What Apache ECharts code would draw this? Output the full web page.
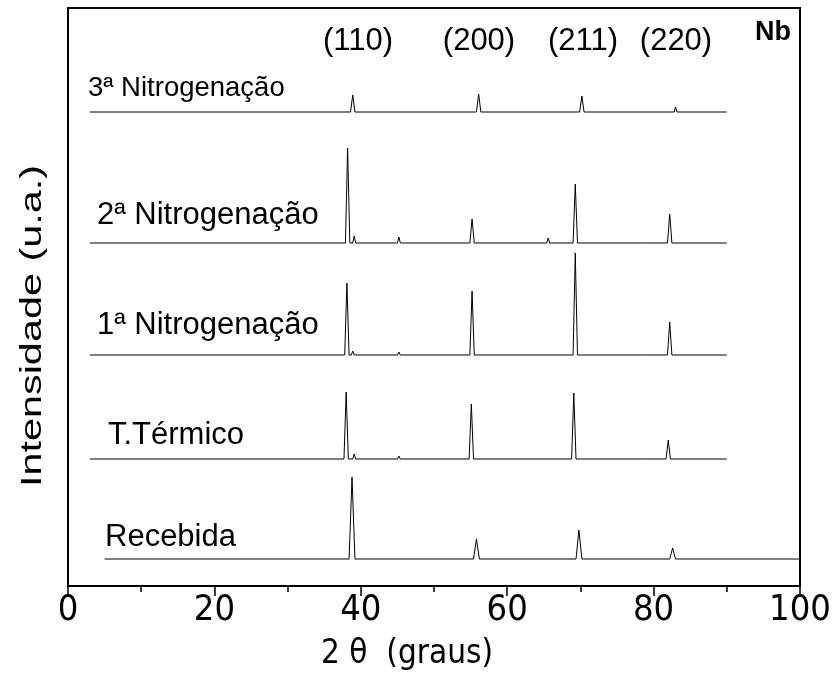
<!DOCTYPE html>
<html>
<head>
<meta charset="utf-8">
<script src="https://cdn.jsdelivr.net/npm/echarts@6/dist/echarts.min.js"></script>
<style>html,body{margin:0;padding:0;background:#fff}#c{width:835px;height:682px}</style>
</head>
<body>
<div id="c"></div>
<script>
// Trace names (bottom to top) and vertical offsets (arbitrary units)
const traceNames = ['Recebida', 'T.Térmico', '1ª Nitrogenação', '2ª Nitrogenação', '3ª Nitrogenação'];
const traceOffsets = [27, 127, 231, 343, 474];

// [2θ, intensity]
const recebida = [[5,0],[38.4,0],[38.8,82],[39.2,0],[55.4,0],[55.8,20],[56.2,0],[69.4,0],[69.8,29],[70.2,0],[82.2,0],[82.6,11],[83.0,0],[100,0]];
const termico = [[3,0],[37.7,0],[38.0,67],[38.3,0],[38.9,0],[39.1,5],[39.3,0],[45.0,0],[45.2,3],[45.4,0],[54.8,0],[55.1,55],[55.4,0],[65.4,0],[65.6,2],[65.8,0],[68.8,0],[69.1,66],[69.4,0],[78.5,0],[78.7,2],[78.9,0],[81.7,0],[82.0,19],[82.3,0],[90,0]];
const nitro1 = [[3,0],[37.8,0],[38.1,72],[38.4,0],[38.7,0],[38.9,4],[39.1,0],[45.0,0],[45.2,3],[45.4,0],[54.9,0],[55.2,64],[55.5,0],[65.4,0],[65.6,2],[65.8,0],[69.0,0],[69.3,102],[69.6,0],[78.5,0],[78.7,1.5],[78.9,0],[81.9,0],[82.2,33],[82.5,0],[90,0]];
const nitro2 = [[3,0],[37.9,0],[38.2,95],[38.5,0],[38.9,0],[39.1,7],[39.3,0],[45.0,0],[45.2,6],[45.4,0],[54.9,0],[55.2,24],[55.5,0],[65.4,0],[65.6,5],[65.8,0],[69.0,0],[69.3,59],[69.6,0],[78.5,0],[78.7,1],[78.9,0],[81.9,0],[82.2,29],[82.5,0],[90,0]];
const nitro3 = [[3,0],[38.6,0],[38.9,17],[39.2,0],[55.8,0],[56.1,18],[56.4,0],[69.9,0],[70.2,16],[70.5,0],[82.8,0],[83.0,5],[83.2,0],[90,0]];
const traces = [recebida, termico, nitro1, nitro2, nitro3];

// Reflection labels
const hklLabels = ['(110)', '(200)', '(211)', '(220)'];
const xTicks = [0, 20, 40, 60, 80, 100];

const FONT = '"Liberation Sans", Arial, sans-serif';
const NARROW = '"Liberation Sans Narrow", "Arial Narrow", "DejaVu Sans Condensed", sans-serif';
const chart = echarts.init(document.getElementById('c'), null, {renderer: 'canvas'});

const series = traces.map((t, i) => ({
  name: traceNames[i],
  type: 'line',
  symbol: 'none',
  silent: true,
  lineStyle: {color: '#000', width: 1},
  data: t.map(p => [p[0], p[1] + traceOffsets[i]])
}));

// label positions (pixels) and sizes
const traceLabelPos = [[105, 537], [108, 435], [97, 325], [97, 215], [88, 88]];
const traceLabelSize = [31, 31, 31, 31, 27.5];
const hklPos = [[358, 41], [479, 41], [583, 41], [676, 41]];

const graphic = [];
traceNames.forEach((n, i) => {
  graphic.push({type: 'text', x: traceLabelPos[i][0], y: traceLabelPos[i][1], silent: true,
    style: {text: n, font: traceLabelSize[i] + 'px ' + FONT, fill: '#000', textAlign: 'left', textVerticalAlign: 'middle'}});
});
hklLabels.forEach((h, i) => {
  graphic.push({type: 'text', x: hklPos[i][0], y: hklPos[i][1], silent: true,
    style: {text: h, font: '31px ' + FONT, fill: '#000', textAlign: 'center', textVerticalAlign: 'middle'}});
});
graphic.push({type: 'text', x: 773, y: 33, silent: true,
  style: {text: 'Nb', font: 'bold 27px ' + FONT, fill: '#000', textAlign: 'center', textVerticalAlign: 'middle'}});
graphic.push({type: 'text', x: 33, y: 326, rotation: Math.PI / 2, scaleX: 1.38, silent: true,
  style: {text: 'Intensidade (u.a.)', font: '30px ' + FONT, fill: '#000', textAlign: 'center', textVerticalAlign: 'middle'}});

chart.setOption({
  animation: false,
  backgroundColor: '#fff',
  grid: {left: 68, right: 35, top: 8, bottom: 96, show: true, borderColor: '#000', borderWidth: 2,
    backgroundColor: 'transparent', containLabel: false, outerBoundsMode: 'none'},
  xAxis: {
    type: 'value', min: 0, max: 100, interval: 20,
    name: '2 θ  (graus)', nameLocation: 'middle', nameGap: 52,
    nameTextStyle: {fontFamily: NARROW, fontSize: 33, color: '#000', padding: [0, 54, 0, 0]},
    axisLine: {show: true, lineStyle: {color: '#000', width: 2}},
    axisTick: {show: true, inside: false, length: 10, lineStyle: {color: '#000', width: 1.5}},
    minorTick: {show: true, splitNumber: 2, length: 6, lineStyle: {color: '#000', width: 1.5}},
    splitLine: {show: false},
    axisLabel: {fontFamily: NARROW, fontSize: 36, color: '#000', margin: 7,
      formatter: v => xTicks.indexOf(v) >= 0 ? String(v) : ''}
  },
  yAxis: {
    type: 'value', min: 0, max: 578,
    axisLine: {show: true, lineStyle: {color: '#000', width: 2}},
    axisTick: {show: false}, axisLabel: {show: false}, splitLine: {show: false}
  },
  series: series,
  graphic: graphic
});
</script>
</body>
</html>
